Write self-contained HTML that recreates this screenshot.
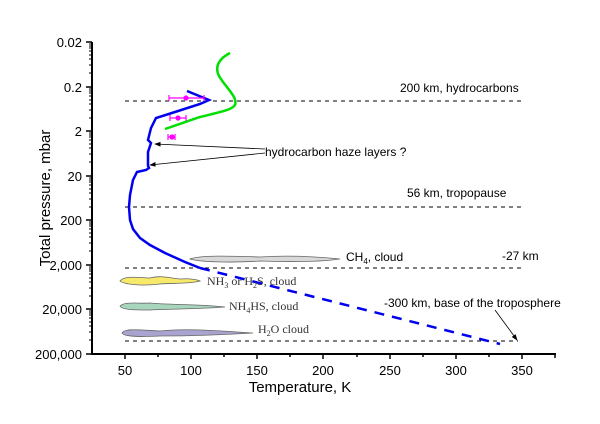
<!DOCTYPE html>
<html><head><style>body{margin:0;background:#fff}svg{display:block;font-family:"Liberation Sans",sans-serif}</style></head><body>
<svg width="600" height="424" viewBox="0 0 600 424">
<defs><marker id="ah" markerWidth="8" markerHeight="6" refX="7" refY="3" orient="auto"><path d="M0,0L8,3L0,6z" fill="#000"/></marker></defs>
<g stroke="#000" stroke-width="2" fill="none">
<line x1="92" y1="42" x2="92" y2="355"/>
<line x1="91" y1="354" x2="556" y2="354"/>
</g>
<g stroke="#000" stroke-width="1.5">
<line x1="86" y1="42" x2="92" y2="42"/><line x1="86" y1="87" x2="92" y2="87"/><line x1="86" y1="131" x2="92" y2="131"/><line x1="86" y1="176" x2="92" y2="176"/><line x1="86" y1="220" x2="92" y2="220"/><line x1="86" y1="265" x2="92" y2="265"/><line x1="86" y1="309" x2="92" y2="309"/><line x1="86" y1="354" x2="92" y2="354"/>
</g>
<g stroke="#000" stroke-width="1.5">
<line x1="125" y1="354" x2="125" y2="359"/><line x1="191" y1="354" x2="191" y2="359"/><line x1="257" y1="354" x2="257" y2="359"/><line x1="323" y1="354" x2="323" y2="359"/><line x1="390" y1="354" x2="390" y2="359"/><line x1="456" y1="354" x2="456" y2="359"/><line x1="522" y1="354" x2="522" y2="359"/>
<line x1="158" y1="354" x2="158" y2="357"/><line x1="224" y1="354" x2="224" y2="357"/><line x1="290" y1="354" x2="290" y2="357"/><line x1="357" y1="354" x2="357" y2="357"/><line x1="423" y1="354" x2="423" y2="357"/><line x1="489" y1="354" x2="489" y2="357"/><line x1="555" y1="354" x2="555" y2="358"/>
</g>
<g font-size="13" text-anchor="end" fill="#000">
<text x="82" y="47">0.02</text><text x="82" y="92">0.2</text><text x="82" y="136">2</text><text x="82" y="181">20</text><text x="82" y="225">200</text><text x="82" y="270">2,000</text><text x="82" y="314">20,000</text><text x="82" y="359">200,000</text>
</g>
<g font-size="13" text-anchor="middle">
<text x="125" y="375">50</text><text x="191" y="375">100</text><text x="257" y="375">150</text><text x="323" y="375">200</text><text x="390" y="375">250</text><text x="456" y="375">300</text><text x="522" y="375">350</text>
</g>
<text x="300" y="392" font-size="15" text-anchor="middle">Temperature, K</text>
<text transform="translate(50,198) rotate(-90)" font-size="15" text-anchor="middle">Total pressure, mbar</text>
<g stroke="#000" stroke-width="1" stroke-dasharray="4,4">
<line x1="125" y1="101" x2="525" y2="101"/><line x1="125" y1="207" x2="525" y2="207"/><line x1="125" y1="268" x2="525" y2="268"/><line x1="125" y1="341" x2="518" y2="341"/>
</g>
<path d="M190,259 C200,255 230,256 260,257 C290,255 320,257 340,259 C320,262 290,262 260,261 C230,263 200,262 190,259Z" fill="#d8d8d8" stroke="#666" stroke-width="0.8"/>
<path d="M120,281 C125,275 140,278 150,278 C160,275 170,278 180,279 C190,278 198,280 200,281 C190,284 170,283 160,284 C145,286 125,285 120,281Z" fill="#f7ea6a" stroke="#666" stroke-width="0.8"/>
<path d="M120,306 C125,301 140,304 150,303 C170,305 200,304 225,307 C200,309 170,309 150,310 C135,310 122,310 120,306Z" fill="#a7d6bc" stroke="#666" stroke-width="0.8"/>
<path d="M122,333 C125,328 140,330 160,331 C185,328 220,331 253,333 C220,335 185,336 160,336 C140,337 124,337 122,333Z" fill="#a9a3cf" stroke="#666" stroke-width="0.8"/>
<path d="M230,53 C220,58 214,66 219,76 C226,88 238,97 235,105 C232,110 220,112 200,117 L165,129" fill="none" stroke="#00e000" stroke-width="2.5"/>
<path d="M187,91 L209,100 L200,104 L175,112 L156,118 L151,128 L148,140 L151,143 L148,152 L148,155 L148,166 L149,168 L146,170 L137,172 L133,180 L130,195 L129,207 L130,220 L133,229 L140,238 L150,245 L165,253 L185,262 L200,268" fill="none" stroke="#0000ee" stroke-width="2.5"/>
<line x1="200" y1="268" x2="500" y2="344" stroke="#0000ee" stroke-width="2.5" stroke-dasharray="10,8"/>
<g stroke="#ff00ff" stroke-width="1.2" fill="#ff00ff">
<line x1="169" y1="98" x2="204" y2="98"/><line x1="169" y1="95" x2="169" y2="101"/><line x1="204" y1="95" x2="204" y2="101"/><circle cx="186" cy="98" r="2"/>
<line x1="170" y1="118" x2="186" y2="118"/><line x1="170" y1="115" x2="170" y2="121"/><line x1="186" y1="115" x2="186" y2="121"/><circle cx="178" cy="118" r="2"/>
<line x1="168" y1="137" x2="175" y2="137"/><line x1="168" y1="134" x2="168" y2="140"/><line x1="175" y1="134" x2="175" y2="140"/><circle cx="172" cy="137" r="2"/>
</g>
<g stroke="#000" stroke-width="0.8" fill="none">
<line x1="265" y1="149" x2="155" y2="144" marker-end="url(#ah)"/>
<line x1="265" y1="153" x2="150" y2="165" marker-end="url(#ah)"/>
<line x1="495" y1="310" x2="517" y2="340" marker-end="url(#ah)"/>
</g>
<g font-size="12" fill="#000">
<text x="400" y="92">200 km, hydrocarbons</text>
<text x="265" y="156">hydrocarbon haze layers ?</text>
<text x="407" y="197">56 km, tropopause</text>
<text x="346" y="261">CH<tspan font-size="8" dy="3">4</tspan><tspan dy="-3">, cloud</tspan></text>
<text x="502" y="260">-27 km</text>
<text x="384" y="307">-300 km, base of the troposphere</text>
</g>
<g font-size="12" fill="#333" font-family="Liberation Serif,serif">
<text x="207" y="285">NH<tspan font-size="8" dy="3">3</tspan><tspan dy="-3"> or H</tspan><tspan font-size="8" dy="3">2</tspan><tspan dy="-3">S, cloud</tspan></text>
<text x="229" y="310">NH<tspan font-size="8" dy="3">4</tspan><tspan dy="-3">HS, cloud</tspan></text>
<text x="258" y="333">H<tspan font-size="8" dy="3">2</tspan><tspan dy="-3">O cloud</tspan></text>
</g>
<g stroke="#000" stroke-width="1">
<path d="M89,73H92M89,65H92M89,59H92M89,55H92M89,51H92M89,48H92M89,46H92M89,44H92
M89,118H92M89,110H92M89,104H92M89,100H92M89,96H92M89,93H92M89,91H92M89,89H92
M89,162H92M89,154H92M89,148H92M89,144H92M89,140H92M89,137H92M89,135H92M89,133H92
M89,207H92M89,199H92M89,193H92M89,189H92M89,185H92M89,182H92M89,180H92M89,178H92
M89,251H92M89,243H92M89,237H92M89,233H92M89,229H92M89,226H92M89,224H92M89,222H92
M89,296H92M89,288H92M89,282H92M89,278H92M89,274H92M89,271H92M89,269H92M89,267H92
M89,340H92M89,332H92M89,326H92M89,322H92M89,318H92M89,315H92M89,313H92M89,311H92"/>
</g>
</svg>
</body></html>
